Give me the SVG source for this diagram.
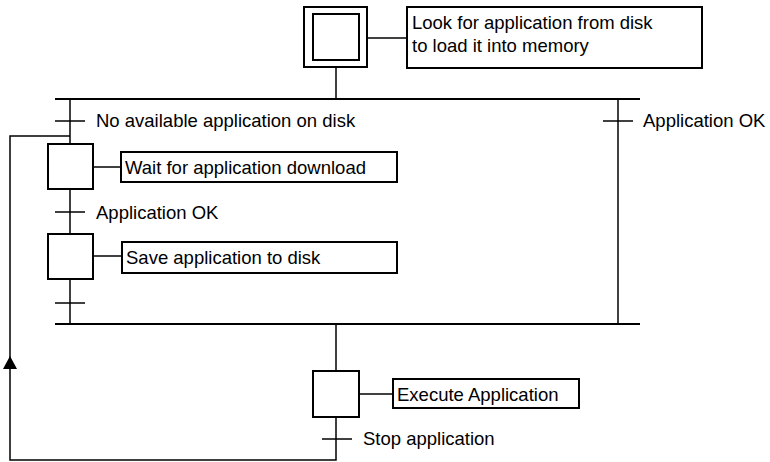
<svg xmlns="http://www.w3.org/2000/svg" width="770" height="462" viewBox="0 0 770 462">
<style>
  .box { fill: #fff; stroke: #000; stroke-width: 2; }
  .act { fill: #fff; stroke: #000; stroke-width: 2; }
  .ln { fill: none; stroke: #000; stroke-width: 1.5; }
  .bar { fill: none; stroke: #000; stroke-width: 2.2; }
  text { font-family: "Liberation Sans", Arial, sans-serif; font-size: 18.5px; fill: #000; }
</style>
<defs>
  <marker id="arr" markerWidth="14" markerHeight="13" refX="7" refY="1" orient="auto-start-reverse" markerUnits="userSpaceOnUse" viewBox="0 0 14 13">
    <path d="M0,13 L7,0 L14,13 Z" fill="#000"/>
  </marker>
</defs>

<g id="connectors">
  <line class="ln" x1="336" y1="67" x2="336" y2="99"/>
  <line class="ln" x1="367" y1="38" x2="407" y2="38"/>
  <line class="bar" x1="55" y1="99" x2="640" y2="99"/>
  <line class="bar" x1="55" y1="324" x2="640" y2="324"/>
  <line class="ln" x1="70" y1="99" x2="70" y2="144"/>
  <line class="ln" x1="70" y1="189" x2="70" y2="234"/>
  <line class="ln" x1="70" y1="279" x2="70" y2="324"/>
  <line class="ln" x1="93" y1="167" x2="121" y2="167"/>
  <line class="ln" x1="93" y1="256" x2="122" y2="256"/>
  <line class="ln" x1="618" y1="99" x2="618" y2="324"/>
  <line class="ln" x1="336" y1="324" x2="336" y2="371"/>
  <line class="ln" x1="359" y1="394" x2="393" y2="394"/>
  <polyline class="ln" points="336,417 336,460 10,460 10,136 70,136"/>
  <path d="M3,369 L10,356 L17,369 Z" fill="#000"/>
</g>

<g id="init-step">
  <rect class="box" x="304" y="7" width="63" height="60"/>
  <rect class="box" x="313" y="14" width="46" height="46"/>
</g>
<g id="init-action">
  <rect class="act" x="407" y="7" width="295" height="61"/>
  <text x="412" y="29">Look for application from disk</text>
  <text x="412" y="52">to load it into memory</text>
</g>

<g id="t-no-app">
  <line class="ln" x1="55" y1="121" x2="85" y2="121"/>
  <text x="96" y="127">No available application on disk</text>
</g>
<g id="t-app-ok-right">
  <line class="ln" x1="603" y1="121" x2="633" y2="121"/>
  <text x="643" y="127">Application OK</text>
</g>

<g id="step-wait">
  <rect class="box" x="48" y="144" width="45" height="45"/>
</g>
<g id="action-wait">
  <rect class="act" x="121" y="152" width="276" height="30"/>
  <text x="125" y="174">Wait for application download</text>
</g>

<g id="t-app-ok-left">
  <line class="ln" x1="55" y1="212" x2="85" y2="212"/>
  <text x="96" y="219">Application OK</text>
</g>

<g id="step-save">
  <rect class="box" x="48" y="234" width="45" height="45"/>
</g>
<g id="action-save">
  <rect class="act" x="122" y="242" width="275" height="31"/>
  <text x="126" y="264">Save application to disk</text>
</g>

<g id="t-save-done">
  <line class="ln" x1="55" y1="303" x2="85" y2="303"/>
</g>

<g id="step-exec">
  <rect class="box" x="313" y="371" width="46" height="46"/>
</g>
<g id="action-exec">
  <rect class="act" x="393" y="379" width="186" height="29"/>
  <text x="397" y="401">Execute Application</text>
</g>

<g id="t-stop">
  <line class="ln" x1="322" y1="439" x2="352" y2="439"/>
  <text x="363" y="445">Stop application</text>
</g>
</svg>
